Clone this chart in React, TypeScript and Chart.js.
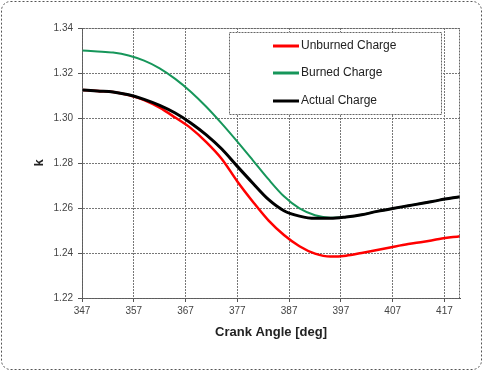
import React, { useEffect, useRef } from "react";
import { Chart, registerables } from "chart.js";

Chart.register(...registerables);

const crankAngles = [347, 350, 353, 356, 359, 362, 365, 368, 371, 374, 377, 380, 383, 386, 389, 392, 395, 398, 401, 404, 407, 410, 413, 416, 420];

const unburnedCharge = [1.3125, 1.3120, 1.3116, 1.3102, 1.3080, 1.3046, 1.3002, 1.2955, 1.2893, 1.2818, 1.2718, 1.2628, 1.2545, 1.2480, 1.2430, 1.2397, 1.2384, 1.2388, 1.2400, 1.2413, 1.2427, 1.2440, 1.2450, 1.2462, 1.2475];

const burnedCharge = [1.3300, 1.3296, 1.3291, 1.3278, 1.3255, 1.3221, 1.3174, 1.3117, 1.3050, 1.2975, 1.2895, 1.2812, 1.2728, 1.2652, 1.2598, 1.2568, 1.2557, 1.2560, 1.2570, 1.2585, 1.2598, 1.2610, 1.2622, 1.2635, 1.2650];

const actualCharge = [1.3125, 1.3120, 1.3116, 1.3103, 1.3083, 1.3056, 1.3022, 1.2978, 1.2925, 1.2862, 1.2785, 1.2710, 1.2638, 1.2588, 1.2564, 1.2554, 1.2554, 1.2560, 1.2570, 1.2585, 1.2598, 1.2610, 1.2622, 1.2635, 1.2650];

const xTickValues = [347, 357, 367, 377, 387, 397, 407, 417];
const seriesLabels = ["Unburned Charge", "Burned Charge", "Actual Charge"];
const seriesColors = ["#ff0000", "#16965a", "#000000"];
const seriesWidths = [2.5, 2, 3];
const seriesOrder = [1, 2, 0];

const FONT = "'Liberation Sans', Arial, sans-serif";

const framePlugin = {
  id: "frame",
  beforeDraw(chart: any) {
    const { ctx, width, height } = chart;
    ctx.save();
    ctx.fillStyle = "#ffffff";
    ctx.fillRect(0, 0, width, height);
    ctx.strokeStyle = "#555";
    ctx.lineWidth = 1;
    ctx.setLineDash([2, 2]);
    const r = 9;
    const x = 1.5, y = 1.5, w = width - 3, h = height - 3;
    ctx.beginPath();
    ctx.moveTo(x + r, y);
    ctx.lineTo(x + w - r, y);
    ctx.arcTo(x + w, y, x + w, y + r, r);
    ctx.lineTo(x + w, y + h - r);
    ctx.arcTo(x + w, y + h, x + w - r, y + h, r);
    ctx.lineTo(x + r, y + h);
    ctx.arcTo(x, y + h, x, y + h - r, r);
    ctx.lineTo(x, y + r);
    ctx.arcTo(x, y, x + r, y, r);
    ctx.closePath();
    ctx.stroke();
    ctx.restore();
  },
  afterDraw(chart: any) {
    const { ctx, chartArea } = chart;
    ctx.save();
    ctx.strokeStyle = "#666";
    ctx.lineWidth = 1;
    ctx.setLineDash([2, 1]);
    ctx.strokeRect(chartArea.left + 0.5, chartArea.top + 0.5, chartArea.right - chartArea.left - 1, chartArea.bottom - chartArea.top);
    const lx = 229, ly = 32, lw = 212, lh = 82;
    ctx.fillStyle = "#ffffff";
    ctx.fillRect(lx, ly, lw, lh);
    ctx.strokeStyle = "#666";
    ctx.setLineDash([2, 1]);
    ctx.strokeRect(lx + 0.5, ly + 0.5, lw, lh);
    ctx.setLineDash([]);
    const rows = [46, 73, 101];
    chart.data.datasets.forEach((ds: any, i: number) => {
      ctx.strokeStyle = ds.borderColor;
      ctx.lineWidth = 3;
      ctx.beginPath();
      ctx.moveTo(273, rows[i]);
      ctx.lineTo(299, rows[i]);
      ctx.stroke();
      ctx.fillStyle = "#222";
      ctx.font = `12px ${FONT}`;
      ctx.textBaseline = "middle";
      ctx.textAlign = "left";
      ctx.fillText(ds.label, 301, rows[i]);
    });
    ctx.restore();
  },
};

export default function App() {
  const ref = useRef<HTMLCanvasElement>(null);
  useEffect(() => {
    if (!ref.current) return;
    const chart = new Chart(ref.current, {
      type: "line",
      data: {
        datasets: [unburnedCharge, burnedCharge, actualCharge].map((vals, i) => ({
          label: seriesLabels[i],
          data: crankAngles.map((x, j) => ({ x, y: vals[j] })),
          borderColor: seriesColors[i],
          backgroundColor: seriesColors[i],
          borderWidth: seriesWidths[i],
          order: seriesOrder[i],
          pointRadius: 0,
          cubicInterpolationMode: "monotone" as const,
          fill: false,
        })),
      },
      options: {
        responsive: false,
        animation: false,
        events: [],
        layout: { padding: { left: 0, right: 23, top: 28, bottom: 0 } },
        plugins: { legend: { display: false }, tooltip: { enabled: false } },
        scales: {
          x: {
            type: "linear",
            min: 347,
            max: 420,
            afterBuildTicks: (scale: any) => {
              scale.ticks = xTickValues.map((v) => ({ value: v }));
            },
            afterFit: (scale: any) => {
              scale.height = 73;
            },
            ticks: {
              autoSkip: false,
              maxRotation: 0,
              padding: 3,
              color: "#444",
              font: { family: FONT, size: 10 },
              callback: (v: any) => String(v),
            },
            grid: {
              color: "#777",
              tickColor: "#555",
              tickLength: 4,
              lineWidth: 1,
            },
            border: { display: true, color: "#555", dash: [2, 1] },
            title: {
              display: true,
              text: "Crank Angle [deg]",
              color: "#222",
              font: { family: FONT, size: 13, weight: "bold" },
              padding: { top: 0, bottom: 31 },
            },
          },
          y: {
            type: "linear",
            min: 1.22,
            max: 1.34,
            afterFit: (scale: any) => {
              scale.width = 82;
            },
            ticks: {
              stepSize: 0.02,
              padding: 5,
              color: "#444",
              font: { family: FONT, size: 10 },
              callback: (v: any) => Number(v).toFixed(2),
            },
            grid: {
              color: "#777",
              tickColor: "#555",
              tickLength: 4,
              lineWidth: 1,
            },
            border: { display: true, color: "#555", dash: [2, 1] },
            title: {
              display: true,
              text: "k",
              color: "#222",
              font: { family: FONT, size: 13, weight: "bold" },
              padding: { top: 32, bottom: 0 },
            },
          },
        },
      },
      plugins: [framePlugin],
    } as any);
    return () => chart.destroy();
  }, []);
  return (
    <div style={{ position: "absolute", left: 0, top: 0, width: 483, height: 371 }}>
      <canvas ref={ref} width={483} height={371} style={{ display: "block" }} />
    </div>
  );
}
